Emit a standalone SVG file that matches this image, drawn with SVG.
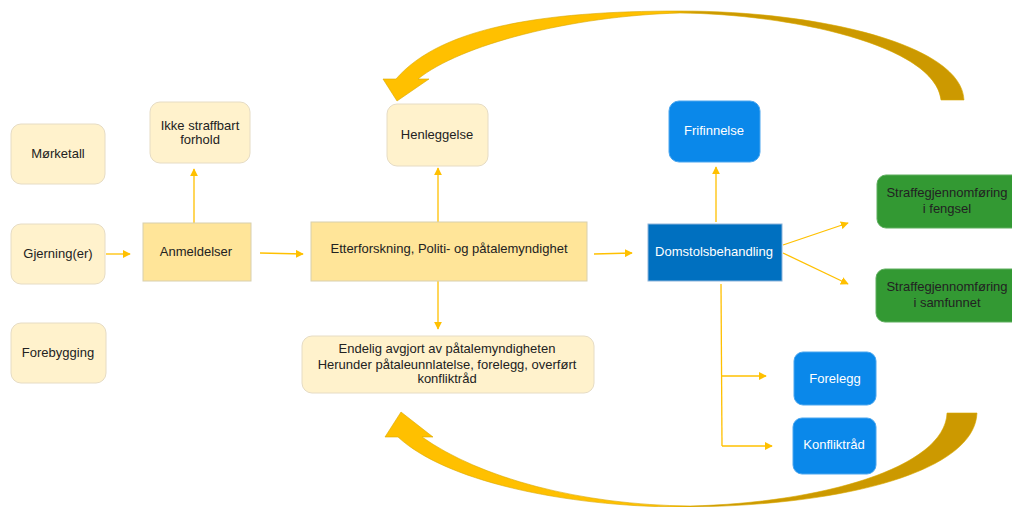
<svg xmlns="http://www.w3.org/2000/svg" width="1012" height="507" viewBox="0 0 1012 507">
<defs>
<marker id="ah" viewBox="0 0 10 10" refX="9" refY="5" markerWidth="8" markerHeight="8" markerUnits="userSpaceOnUse" orient="auto">
<path d="M0,0 L10,5 L0,10 Z" fill="#ffc000"/>
</marker>
<linearGradient id="gTop" x1="383" y1="0" x2="964" y2="0" gradientUnits="userSpaceOnUse">
<stop offset="0" stop-color="#ffc000"/><stop offset="0.49" stop-color="#ffc000"/><stop offset="0.54" stop-color="#cc9900"/><stop offset="1" stop-color="#cc9900"/>
</linearGradient>
<linearGradient id="gBot" x1="385" y1="0" x2="977" y2="0" gradientUnits="userSpaceOnUse">
<stop offset="0" stop-color="#ffc000"/><stop offset="0.49" stop-color="#ffc000"/><stop offset="0.54" stop-color="#cc9900"/><stop offset="1" stop-color="#cc9900"/>
</linearGradient>
</defs>
<style>
text{font-family:"Liberation Sans",Arial,sans-serif;font-size:13px;text-anchor:middle;fill:#222}
.pale{fill:#fff2cc;stroke:#e6dcc4;stroke-width:1}
.yel{fill:#ffe599;stroke:#d8cfae;stroke-width:1}
.blue{fill:#0a88ea;stroke:#4aa6ef;stroke-width:1}
.dblue{fill:#0070c0;stroke:#8db4da;stroke-width:1}
.green{fill:#339933;stroke:#5fae5f;stroke-width:1}
.w{fill:#fff}
.con line{stroke:#ffc000;stroke-width:1.3;fill:none}
</style>
<rect width="1012" height="507" fill="#fff"/>

<g id="big-arrows">
<path d="M964,100 C962,45 820,11 680,11 C540,11 440,28 396,79 L383,79 L397,101 L429,79 L418,79 C460,45 570,16 680,13 C790,14 935,45 941,100 Z" fill="url(#gTop)" stroke="#d9a800" stroke-width="0.6"/>
<path d="M977,413 C975,470 850,505 690,507 C580,508 450,485 398,437 L385,437 L401,412 L433,437 L422,437 C480,478 580,505 690,506 C820,503 945,468 947,413 Z" fill="url(#gBot)" stroke="#d9a800" stroke-width="0.6"/>
</g>

<g class="con" id="connectors">
<line x1="106" y1="254" x2="130" y2="254" marker-end="url(#ah)"/>
<line x1="194" y1="223" x2="194" y2="169" marker-end="url(#ah)"/>
<line x1="260" y1="253" x2="303" y2="254" marker-end="url(#ah)"/>
<line x1="438" y1="222" x2="438" y2="168" marker-end="url(#ah)"/>
<line x1="438" y1="281" x2="438" y2="329" marker-end="url(#ah)"/>
<line x1="594" y1="254" x2="632" y2="253" marker-end="url(#ah)"/>
<line x1="716" y1="222" x2="716" y2="167" marker-end="url(#ah)"/>
<line x1="783" y1="245" x2="848" y2="223" marker-end="url(#ah)"/>
<line x1="783" y1="253" x2="848" y2="284" marker-end="url(#ah)"/>
<line x1="721" y1="284" x2="722" y2="446"/>
<line x1="722" y1="376" x2="766" y2="376" marker-end="url(#ah)"/>
<line x1="722" y1="446" x2="772" y2="446" marker-end="url(#ah)"/>
</g>

<g id="morketall"><rect class="pale" x="11" y="124" width="94" height="60" rx="10"/><text x="58" y="158">Mørketall</text></g>
<g id="ikke-straffbart"><rect class="pale" x="150" y="102" width="100" height="61" rx="10"/><text x="200" y="130">Ikke straffbart</text><text x="200" y="144">forhold</text></g>
<g id="gjerning"><rect class="pale" x="11" y="224" width="94" height="60" rx="10"/><text x="58" y="258">Gjerning(er)</text></g>
<g id="anmeldelser"><rect class="yel" x="143" y="223" width="108" height="58"/><text x="196" y="256">Anmeldelser</text></g>
<g id="forebygging"><rect class="pale" x="11" y="323" width="95" height="60" rx="10"/><text x="58" y="357">Forebygging</text></g>
<g id="henleggelse"><rect class="pale" x="387" y="104" width="101" height="62" rx="10"/><text x="437" y="139">Henleggelse</text></g>
<g id="etterforskning"><rect class="yel" x="311" y="222" width="276" height="59"/><text x="449" y="253">Etterforskning, Politi- og påtalemyndighet</text></g>
<g id="endelig"><rect class="pale" x="302" y="336" width="292" height="57" rx="10"/><text x="447" y="353">Endelig avgjort av påtalemyndigheten</text><text x="447" y="369">Herunder påtaleunnlatelse, forelegg, overført</text><text x="447" y="383">konfliktråd</text></g>
<g id="frifinnelse"><rect class="blue" x="669" y="101" width="91" height="61" rx="10"/><text class="w" x="714" y="135">Frifinnelse</text></g>
<g id="domstol"><rect class="dblue" x="648" y="224" width="134" height="57"/><text class="w" x="714" y="256">Domstolsbehandling</text></g>
<g id="fengsel"><rect class="green" x="877" y="175" width="150" height="53" rx="9"/><text x="947" y="197">Straffegjennomføring</text><text x="947" y="213">i fengsel</text></g>
<g id="samfunnet"><rect class="green" x="876" y="269" width="150" height="53" rx="9"/><text x="947" y="291">Straffegjennomføring</text><text x="947" y="307">i samfunnet</text></g>
<g id="forelegg"><rect class="blue" x="794" y="352" width="82" height="53" rx="9"/><text class="w" x="835" y="383">Forelegg</text></g>
<g id="konfliktrad"><rect class="blue" x="793" y="418" width="83" height="56" rx="9"/><text class="w" x="834" y="449">Konfliktråd</text></g>
</svg>
